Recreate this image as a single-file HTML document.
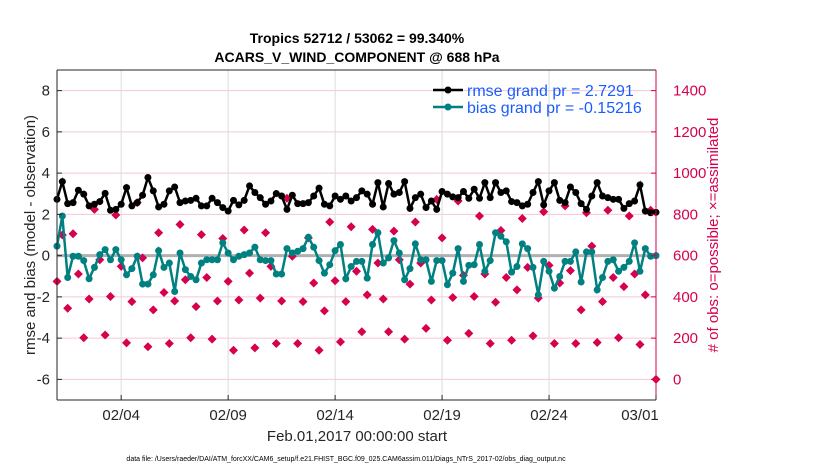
<!DOCTYPE html>
<html><head><meta charset="utf-8"><style>
body{margin:0;background:#fff;width:830px;height:470px;overflow:hidden;font-family:"Liberation Sans",sans-serif}
</style></head><body>
<svg id="chart" width="830" height="470" xmlns="http://www.w3.org/2000/svg" font-family="Liberation Sans, sans-serif">
<text x="357" y="43" text-anchor="middle" font-size="14" font-weight="bold">Tropics 52712 / 53062 = 99.340%</text>
<text x="357" y="62" text-anchor="middle" font-size="14" font-weight="bold">ACARS_V_WIND_COMPONENT @ 688 hPa</text>
<g id="grid"></g><g id="marks"></g><g id="axes"></g>
<text transform="translate(35,235) rotate(-90)" text-anchor="middle" font-size="15" fill="#262626">rmse and bias (model - observation)</text>
<text transform="translate(718,235) rotate(-90)" text-anchor="middle" font-size="15" fill="#d6004f"># of obs: o=possible; ×=assimilated</text>
<text x="357" y="441" text-anchor="middle" font-size="15" fill="#262626">Feb.01,2017 00:00:00 start</text>
<text x="346" y="461" text-anchor="middle" font-size="7" fill="#000">data file: /Users/raeder/DAI/ATM_forcXX/CAM6_setup/f.e21.FHIST_BGC.f09_025.CAM6assim.011/Diags_NTrS_2017-02/obs_diag_output.nc</text>
<g>
<line x1="433" y1="90" x2="463" y2="90" stroke="#000" stroke-width="2.5"/><circle cx="448" cy="90" r="3.5" fill="#000"/>
<text x="467" y="96" font-size="16" fill="#1a5cff">rmse grand pr = 2.7291</text>
<line x1="433" y1="107" x2="463" y2="107" stroke="#008080" stroke-width="2.5"/><circle cx="448" cy="107" r="3.5" fill="#008080"/>
<text x="467" y="113" font-size="16" fill="#1a5cff">bias grand pr = -0.15216</text>
</g>
</svg>
<script>
const rmse=[2.73,3.59,2.52,2.57,3.17,2.98,2.41,2.49,2.62,3.02,2.20,2.24,2.49,3.30,2.41,2.57,2.93,3.79,3.14,2.36,2.49,3.14,3.33,2.57,2.65,2.68,2.78,2.41,2.41,2.78,2.57,2.33,2.16,2.68,2.46,2.68,3.38,3.06,2.81,2.49,2.65,3.01,2.89,2.24,2.93,2.52,2.52,2.57,2.89,3.27,2.49,2.41,2.89,2.73,2.89,2.65,2.81,
3.14,2.98,2.49,3.54,2.36,3.50,2.98,3.06,3.59,2.29,2.81,2.98,2.33,2.65,2.24,3.11,2.98,2.85,2.81,3.11,2.78,3.22,2.78,3.54,2.81,3.54,3.06,3.14,2.62,2.57,2.41,2.49,3.06,3.59,2.46,3.14,3.54,2.68,2.57,3.33,3.06,2.52,2.24,2.89,3.54,2.89,2.81,2.73,2.73,2.29,2.52,2.65,3.43,2.16,2.08,2.10];
const bias=[0.46,1.92,-1.06,-0.03,-0.03,-0.24,-1.12,-0.57,0.05,0.29,-0.20,0.29,-0.20,-0.93,-0.63,-0.03,-1.38,-1.38,-0.93,0.24,-0.57,-0.36,-1.74,0.13,-0.68,-1.01,-1.17,-0.36,-0.20,-0.20,-0.20,0.62,0.13,-0.20,-0.03,0.05,0.13,0.41,-0.20,-0.24,-0.24,-0.89,-0.89,0.34,0.13,0.21,0.34,0.89,0.41,-0.24,-0.85,-0.44,0.24,0.54,-1.12,-0.53,-0.28,
-0.28,-1.09,0.54,1.11,-0.36,-0.11,0.73,0.13,-1.17,-0.63,0.57,-0.20,-0.20,-1.25,-0.24,-0.24,-1.41,-0.85,0.34,-1.25,-0.47,-0.44,0.54,-0.76,-0.24,1.11,0.94,0.67,-0.80,-0.53,0.57,0.34,-0.57,-1.90,-0.28,-0.76,-1.58,-1.01,-0.28,-0.28,0.18,-1.28,0.18,0.18,-1.66,-1.06,-0.28,-0.20,-0.76,-0.57,-0.28,0.62,-0.76,0.34,-0.03,0.0];
const obsCount=[475,700,345,706,511,202,390,824,580,215,402,797,548,177,377,857,589,158,337,711,421,174,380,751,483,202,353,702,494,195,380,683,475,141,385,724,515,153,394,711,548,174,380,878,597,174,377,686,467,141,332,763,478,182,377,740,524,
231,410,727,564,390,231,719,580,195,462,763,564,247,385,873,686,190,397,865,504,223,402,792,511,174,374,722,494,190,434,780,543,211,394,813,553,174,467,841,527,174,337,808,646,179,377,820,494,202,450,792,511,169,410,820,0];
const leftTicks=[-6,-4,-2,0,2,4,6,8];
const rightTicks=[0,200,400,600,800,1000,1200,1400];
const dateTicks=[3,8,13,18,23,28];
const dateLabels=["02/04","02/09","02/14","02/19","02/24","03/01"];
const NS="http://www.w3.org/2000/svg";
const X0=57,X1=656,Y0=70,Y1=400,DAYS=28,YMIN=-7,YMAX=9;
const xs=d=>X0+(X1-X0)*d/DAYS;
const ys=v=>Y1-(Y1-Y0)*(v-YMIN)/(YMAX-YMIN);
const yr=c=>ys(c/100-6);
function mk(tag,attrs,parent){const e=document.createElementNS(NS,tag);for(const k in attrs)e.setAttribute(k,attrs[k]);parent.appendChild(e);return e;}
const grid=document.getElementById('grid'),marks=document.getElementById('marks'),axes=document.getElementById('axes');
leftTicks.forEach(v=>{const l=mk('line',{x1:X0,x2:X1,y1:ys(v),y2:ys(v),stroke:'#f4c6d6','stroke-width':1},grid);

});
dateTicks.forEach(d=>{const l=mk('line',{x1:xs(d),x2:xs(d),y1:Y0,y2:Y1,stroke:'#dcdcdc','stroke-width':1},grid);

});
const z=mk('line',{x1:X0,x2:X1,y1:ys(0),y2:ys(0),stroke:'#b0b0b0','stroke-width':3},grid);


const step=DAYS/(rmse.length-1);
obsCount.forEach((c,i)=>{const x=xs(i*DAYS/(obsCount.length-1)),y=yr(c);
const p=mk('path',{d:`M${x-4.5},${y}L${x},${y-4.5}L${x+4.5},${y}L${x},${y+4.5}Z`,fill:'#d6004f'},marks);

});
function series(arr,col,name){
const pts=arr.map((v,i)=>xs(i*step).toFixed(1)+','+ys(v).toFixed(1)).join(' ');
const pl=mk('polyline',{points:pts,fill:'none',stroke:col,'stroke-width':2.5},marks);


arr.forEach((v,i)=>{const c=mk('circle',{cx:xs(i*step),cy:ys(v),r:3.5,fill:col},marks);

});}
series(bias,'#008080','bias');
series(rmse,'#000','rmse');
mk('line',{x1:X0,x2:X1,y1:Y0,y2:Y0,stroke:'#262626'},axes);
mk('line',{x1:X0,x2:X1,y1:Y1,y2:Y1,stroke:'#262626'},axes);
mk('line',{x1:X0,x2:X0,y1:Y0,y2:Y1,stroke:'#262626'},axes);
mk('line',{x1:X1,x2:X1,y1:Y0,y2:Y1,stroke:'#d6004f'},axes);
leftTicks.forEach(v=>{mk('line',{x1:X0,x2:X0+5,y1:ys(v),y2:ys(v),stroke:'#262626'},axes);
const t=mk('text',{x:X0-7,y:ys(v)+5,'text-anchor':'end','font-size':15,fill:'#262626'},axes);t.textContent=v;

});
rightTicks.forEach(v=>{mk('line',{x1:X1-5,x2:X1,y1:yr(v),y2:yr(v),stroke:'#d6004f'},axes);
const t=mk('text',{x:X1+17,y:yr(v)+5,'font-size':15,fill:'#d6004f'},axes);t.textContent=v;

});
dateTicks.forEach((d,i)=>{mk('line',{x1:xs(d),x2:xs(d),y1:Y1-5,y2:Y1,stroke:'#262626'},axes);
const t=mk('text',{x:xs(d)-(i==5?16:0),y:Y1+20,'text-anchor':'middle','font-size':15,fill:'#262626'},axes);t.textContent=dateLabels[i];

});
</script>
</body></html>
